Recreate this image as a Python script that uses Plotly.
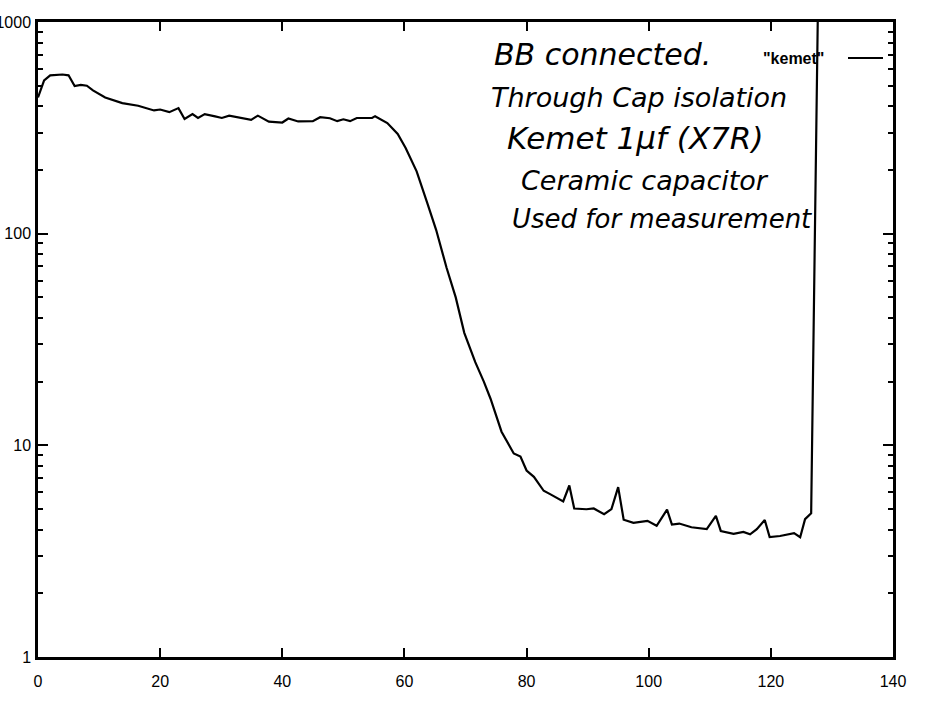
import plotly.graph_objects as go

# Impedance sweep of the Kemet 1uF X7R ceramic capacitor (log scale)
x_vals = [0, 1, 2, 4, 5, 6, 7, 8, 9, 11, 13.8, 16.4, 19, 20, 21.5, 23, 24, 25.3,
          26.2, 27.3, 29, 30.1, 31.3, 33.6, 34.9, 36, 37.8, 40, 41, 42.6, 45,
          46.2, 47.8, 49, 50, 51.1, 52.2, 54.7, 55.2, 57.2, 58.9, 60.2, 62, 63.8,
          65.2, 66.9, 68.4, 69.8, 71.6, 73, 74.1, 75.9, 77.9, 79, 80, 81.2, 82.8,
          84, 86, 87, 87.8, 89.8, 91, 92.7, 93.9, 95, 95.9, 97.5, 99.8, 101.3,
          103, 103.8, 105, 107, 109.5, 111, 111.8, 113.9, 115.5, 116.6, 117.7,
          119, 119.8, 121.5, 123.8, 124.8, 125.6, 126.6, 128]
y_vals = [440, 530, 560, 565, 560, 498, 505, 500, 475, 440, 414, 402, 382, 386, 375,
          392, 348, 367, 352, 367, 358, 352, 361, 349, 345, 361, 338, 335, 350,
          339, 340, 355, 351, 340, 347, 340, 352, 352, 359, 333, 296, 254, 197,
          138, 104, 69, 50, 34, 24.7, 20, 16.6, 11.6, 9.15, 8.85, 7.6, 7.1, 6.1,
          5.85, 5.43, 6.46, 5.03, 4.99, 5.03, 4.73, 5.0, 6.35, 4.45, 4.3, 4.4,
          4.17, 4.97, 4.22, 4.27, 4.1, 4.02, 4.64, 3.94, 3.82, 3.9, 3.8, 4.02,
          4.44, 3.69, 3.73, 3.85, 3.68, 4.48, 4.78, 5000]

x_ticks = [0, 20, 40, 60, 80, 100, 120, 140]
y_ticks = [1, 10, 100, 1000]
y_tick_text = ["1", "10", "100", "1000"]
y_minor = [m * 10 ** e for e in range(3) for m in range(2, 10)]

series_name = '"kemet"'
notes = ["BB connected.", "Through Cap isolation", "Kemet 1μf (X7R)",
         "Ceramic capacitor", "Used for measurement"]

W, H = 939, 702
PL, PR, PT, PB = 38, 893, 22, 657


def fx(p):
    return (p - PL) / (PR - PL)


def fy(p):
    return (PB - p) / (PB - PT)


fig = go.Figure()
fig.add_trace(go.Scatter(x=x_vals, y=y_vals, mode="lines",
                         line=dict(color="black", width=2.2),
                         name=series_name, showlegend=False))

axis_font = dict(family="Liberation Sans, Arial, sans-serif", size=16, color="black")

fig.update_layout(
    width=W, height=H,
    margin=dict(l=PL, r=W - PR, t=PT, b=H - PB),
    paper_bgcolor="white", plot_bgcolor="white",
    font=axis_font,
    xaxis=dict(range=[0, 140], tickvals=x_ticks, ticks="inside", ticklen=9,
               tickwidth=2, tickcolor="black", showline=True, linewidth=2.5,
               linecolor="black", mirror="ticks", showgrid=False, zeroline=False,
               tickfont=axis_font, automargin=False, ticklabelstandoff=8),
    yaxis=dict(type="log", range=[0, 3], tickvals=y_ticks, ticktext=y_tick_text,
               ticks="inside", ticklen=10, tickwidth=2, tickcolor="black",
               showline=True, linewidth=2.5, linecolor="black", mirror="ticks",
               showgrid=False, zeroline=False, tickfont=axis_font,
               automargin=False, ticklabelstandoff=1,
               minor=dict(tickvals=y_minor, ticks="inside", ticklen=5,
                          tickwidth=1.5, tickcolor="black", showgrid=False)),
)

# handwritten notes
note_pos = [(492, 54, 30), (489, 97, 27), (505, 138, 31), (519, 180, 27), (510, 219, 26)]
for text, (xp, yp, size) in zip(notes, note_pos):
    fig.add_annotation(x=fx(xp), y=fy(yp), xref="paper", yref="paper",
                       text=text, showarrow=False, xanchor="left", yanchor="middle",
                       font=dict(family="DejaVu Sans", size=size, color="black",
                                 style="italic", weight=300))

# key: label left of the line sample
fig.add_annotation(x=fx(826), y=fy(58), xref="paper", yref="paper",
                   text=series_name, showarrow=False, xanchor="right",
                   yanchor="middle",
                   font=dict(family="Liberation Sans", size=16, color="black",
                             weight="bold"))
fig.add_shape(type="line", xref="paper", yref="paper",
              x0=fx(848), x1=fx(883), y0=fy(58), y1=fy(58),
              line=dict(color="black", width=2))

fig.write_html("out.html")
